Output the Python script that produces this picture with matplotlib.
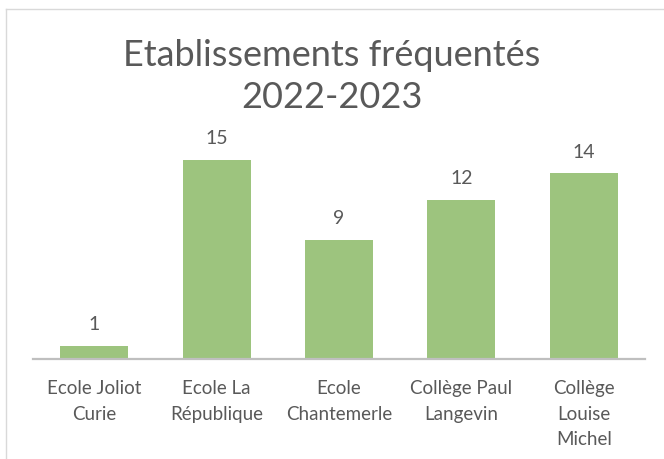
import matplotlib
matplotlib.use('Agg')
import matplotlib.pyplot as plt
from matplotlib.lines import Line2D

# données
etablissements = ['Ecole Joliot\nCurie', 'Ecole La\nRépublique', 'Ecole\nChantemerle',
                  'Collège Paul\nLangevin', 'Collège\nLouise\nMichel']
effectifs = [1, 15, 9, 12, 14]

plt.rcParams['font.family'] = ['Lato', 'DejaVu Sans']
GRIS = '#595959'
VERT = '#9DC47E'

W, H = 664, 459
fig = plt.figure(figsize=(W / 100, H / 100), dpi=100)

# zone de tracé (en pixels puis converti)
x0, x1 = 33, 645
y_base, y_top = 359, 146.7
ax = fig.add_axes([x0 / W, 1 - y_base / H, (x1 - x0) / W, (y_base - y_top) / H])

pos = range(len(effectifs))
bars = ax.bar(pos, effectifs, width=0.556, color=VERT, zorder=2)
ax.set_xlim(-0.5, len(effectifs) - 0.5)
ax.set_ylim(0, 16)

for b, v in zip(bars, effectifs):
    ax.annotate(str(v), (b.get_x() + b.get_width() / 2, v), xytext=(0, 9),
                textcoords='offset points', ha='center', va='bottom',
                fontsize=14, color=GRIS)

ax.set_xticks(list(pos))
ax.set_xticklabels(etablissements, fontsize=13.5, color=GRIS, linespacing=1.62)
ax.tick_params(axis='x', length=0, pad=15)
ax.set_yticks([])
for s in ['top', 'right', 'left']:
    ax.spines[s].set_visible(False)
ax.spines['bottom'].set_color('#BFBFBF')
ax.spines['bottom'].set_linewidth(1.6)
ax.spines['bottom'].set_zorder(3)

fig.text(0.5, 1 - 108 / H, 'Etablissements fréquentés\n2022-2023', ha='center',
         va='baseline', fontsize=26, color=GRIS, linespacing=1.35)

# cadre du graphique
bord = '#D9D9D9'
fig.add_artist(Line2D([6 / W, 1], [1 - 9 / H, 1 - 9 / H], color=bord, lw=1,
                      transform=fig.transFigure))
fig.add_artist(Line2D([6 / W, 6 / W], [0, 1 - 9 / H], color=bord, lw=1,
                      transform=fig.transFigure))

fig.savefig('out.png', dpi=100)
